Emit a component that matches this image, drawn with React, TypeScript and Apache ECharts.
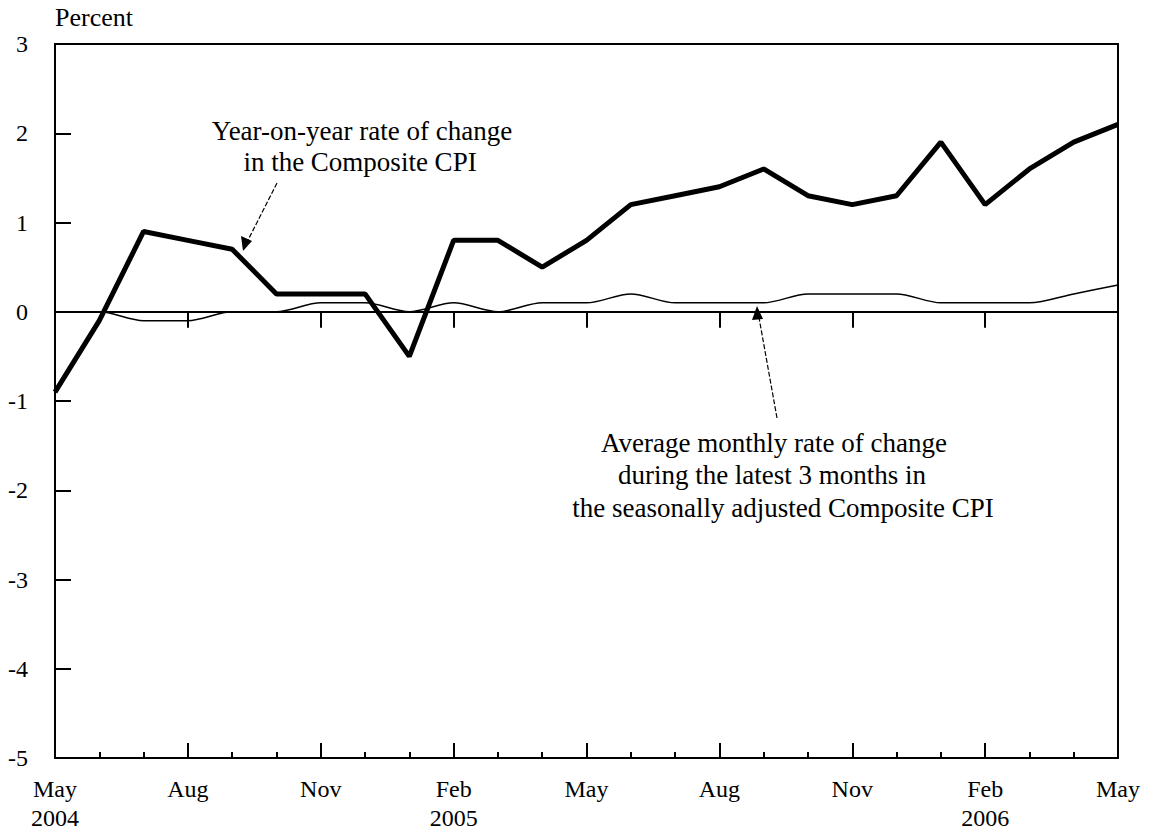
import React, { useEffect, useRef } from "react";
import * as echarts from "echarts";

const categories = [
  "2004-05", "2004-06", "2004-07", "2004-08", "2004-09", "2004-10", "2004-11", "2004-12",
  "2005-01", "2005-02", "2005-03", "2005-04", "2005-05", "2005-06", "2005-07", "2005-08",
  "2005-09", "2005-10", "2005-11", "2005-12", "2006-01", "2006-02", "2006-03", "2006-04",
  "2006-05",
];

const yoyChange = [
  -0.9, -0.1, 0.9, 0.8, 0.7, 0.2, 0.2, 0.2,
  -0.5, 0.8, 0.8, 0.5, 0.8, 1.2, 1.3, 1.4,
  1.6, 1.3, 1.2, 1.3, 1.9, 1.2, 1.6, 1.9,
  2.1,
];

const avg3mChange = [
  0.0, 0.0, -0.1, -0.1, 0.0, 0.0, 0.1, 0.1,
  0.0, 0.1, 0.0, 0.1, 0.1, 0.2, 0.1, 0.1,
  0.1, 0.2, 0.2, 0.2, 0.1, 0.1, 0.1, 0.2,
  0.3,
];

const monthNames: Record<string, string> = {
  "01": "Jan", "02": "Feb", "03": "Mar", "04": "Apr", "05": "May", "06": "Jun",
  "07": "Jul", "08": "Aug", "09": "Sep", "10": "Oct", "11": "Nov", "12": "Dec",
};

const yMin = -5;
const yMax = 3;

const FONT = "'Liberation Serif', 'Times New Roman', serif";

export default function App() {
  const ref = useRef<HTMLDivElement>(null);

  useEffect(() => {
    if (!ref.current) return;
    const chart = echarts.init(ref.current, null, { renderer: "svg" });

    const fmt = (val: string, idx: number) => {
      const [y, m] = val.split("-");
      const name = monthNames[m];
      if (idx === 0 || m === "02") return name + "\n" + y;
      return name;
    };

    const baseX = {
      type: "category" as const,
      data: categories,
      boundaryGap: false,
      position: "bottom" as const,
    };

    const textStyle = { fontFamily: FONT, fontSize: 24, color: "#000" };
    const ann = (text: string, x: number, y: number) => ({
      type: "text",
      x,
      y,
      style: {
        text,
        fontFamily: FONT,
        fontSize: 27,
        fill: "#000",
        align: "center",
        verticalAlign: "middle",
      },
    });

    chart.setOption({
      animation: false,
      backgroundColor: "#fff",
      grid: {
        left: 55,
        right: 35,
        top: 44,
        bottom: 80,
        show: true,
        borderColor: "#000",
        borderWidth: 2,
        containLabel: false,
      },
      xAxis: [
        {
          ...baseX,
          axisLine: { show: true, lineStyle: { color: "#000", width: 2 } },
          axisTick: { show: true, interval: 2, inside: false, length: 16, lineStyle: { color: "#000", width: 2 } },
          axisLabel: {
            interval: 2,
            margin: 16,
            formatter: fmt,
            fontFamily: FONT,
            fontSize: 24,
            lineHeight: 29,
            color: "#000",
          },
          splitLine: { show: false },
        },
        {
          ...baseX,
          axisLine: { show: false },
          axisTick: { show: true, interval: 0, inside: true, length: 6, lineStyle: { color: "#000", width: 2 } },
          axisLabel: { show: false },
          splitLine: { show: false },
        },
        {
          ...baseX,
          axisLine: { show: false },
          axisTick: { show: true, interval: 2, inside: true, length: 15, lineStyle: { color: "#000", width: 2 } },
          axisLabel: { show: false },
          splitLine: { show: false },
        },
      ],
      yAxis: {
        type: "value",
        min: yMin,
        max: yMax,
        interval: 1,
        name: "Percent",
        nameLocation: "end",
        nameGap: 14,
        nameTextStyle: { fontFamily: FONT, fontSize: 26, color: "#000", align: "left", padding: [0, 0, 0, 0] },
        axisLine: { show: true, lineStyle: { color: "#000", width: 2 } },
        axisTick: { show: true, inside: true, length: 16, lineStyle: { color: "#000", width: 2 } },
        axisLabel: { ...textStyle, margin: 27 },
        splitLine: { show: false },
      },
      series: [
        {
          name: "Year-on-year rate of change in the Composite CPI",
          type: "line",
          xAxisIndex: 0,
          data: yoyChange,
          symbol: "none",
          lineStyle: { color: "#000", width: 5 },
          markLine: {
            silent: true,
            symbol: "none",
            label: { show: false },
            lineStyle: { color: "#000", width: 2, type: "solid" },
            data: [{ yAxis: 0 }],
          },
        },
        {
          name: "Average monthly rate of change during the latest 3 months in the seasonally adjusted Composite CPI",
          type: "line",
          xAxisIndex: 0,
          data: avg3mChange,
          symbol: "none",
          smooth: 0.3,
          lineStyle: { color: "#000", width: 1.5 },
        },
      ],
      graphic: [
        ann("Year-on-year rate of change", 362, 131),
        ann("in the Composite CPI", 360, 162),
        { type: "line", shape: { x1: 277, y1: 183, x2: 245, y2: 246 }, style: { stroke: "#000", lineWidth: 1.2, lineDash: [5, 2] } },
        { type: "polygon", shape: { points: [[243, 251], [241, 236], [252, 241]] }, style: { fill: "#000" } },
        ann("Average monthly rate of change", 774, 443),
        ann("during the latest 3 months in", 772, 475),
        ann("the seasonally adjusted Composite CPI", 783, 508),
        { type: "line", shape: { x1: 777, y1: 418, x2: 758, y2: 312 }, style: { stroke: "#000", lineWidth: 1.2, lineDash: [5, 2] } },
        { type: "polygon", shape: { points: [[757, 306], [752, 320], [763, 319]] }, style: { fill: "#000" } },
      ],
    });

    return () => chart.dispose();
  }, []);

  return <div ref={ref} style={{ width: 1153, height: 838, margin: -8 }} />;
}
